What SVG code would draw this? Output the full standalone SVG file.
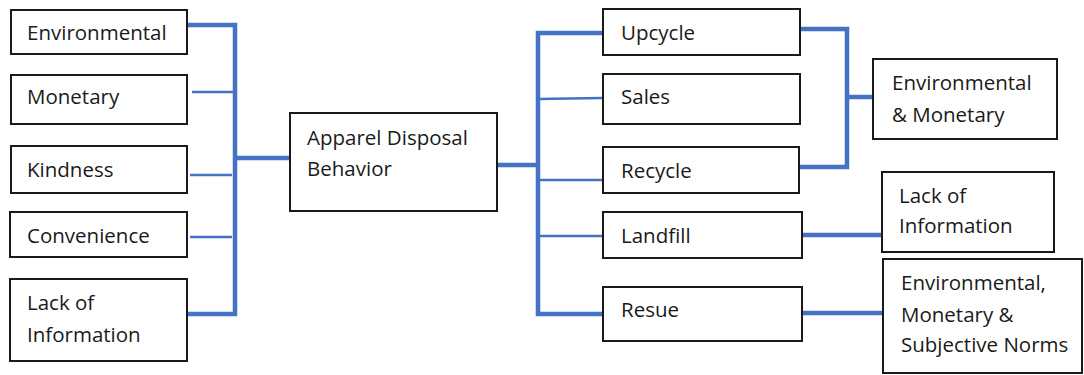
<svg xmlns="http://www.w3.org/2000/svg" width="1084" height="375" viewBox="0 0 1084 375">
  <style>
    .box { fill: #ffffff; stroke: #1a1a1a; stroke-width: 2; }
    .lbl { font-family: "Open Sans", "Noto Sans", sans-serif; font-size: 20.5px; fill: #1a1a1a; }
    .thick { stroke: #4472c4; stroke-width: 4.5; fill: none; }
    .thin { stroke: #4472c4; stroke-width: 2.5; fill: none; }
  </style>
  <rect width="1084" height="375" fill="#ffffff"/>

  <!-- connectors -->
  <g id="connectors">
    <!-- left bus -->
    <polyline class="thick" points="187,25 235,25 235,314 187,314"/>
    <line class="thin" x1="192" y1="92" x2="235" y2="92"/>
    <line class="thin" x1="190" y1="175" x2="232" y2="175"/>
    <line class="thin" x1="190" y1="237" x2="232" y2="237"/>
    <line class="thick" x1="235" y1="158" x2="290" y2="158"/>
    <!-- right bus -->
    <line class="thick" x1="497" y1="165" x2="538" y2="165"/>
    <polyline class="thick" points="603,33 538,33 538,314 603,314"/>
    <line class="thin" x1="538" y1="99" x2="603" y2="98"/>
    <line class="thin" x1="538" y1="180" x2="603" y2="180"/>
    <line class="thin" x1="538" y1="236" x2="603" y2="236"/>
    <!-- outcome links -->
    <polyline class="thick" points="800,29 847,29 847,167 800,167"/>
    <line class="thick" x1="847" y1="97" x2="873" y2="97"/>
    <line class="thick" x1="802" y1="235" x2="882" y2="235"/>
    <line class="thick" x1="802" y1="313" x2="883" y2="313"/>
  </g>

  <!-- motives -->
  <g id="n-environmental">
    <rect class="box" x="11" y="10" width="176" height="44"/>
    <text class="lbl" x="27" y="40">Environmental</text>
  </g>
  <g id="n-monetary">
    <rect class="box" x="11" y="75" width="176" height="49"/>
    <text class="lbl" x="27" y="104">Monetary</text>
  </g>
  <g id="n-kindness">
    <rect class="box" x="11" y="146" width="176" height="47"/>
    <text class="lbl" x="27" y="177">Kindness</text>
  </g>
  <g id="n-convenience">
    <rect class="box" x="10" y="212" width="177" height="45"/>
    <text class="lbl" x="27" y="243">Convenience</text>
  </g>
  <g id="n-lack-left">
    <rect class="box" x="10" y="279" width="177" height="82"/>
    <text class="lbl" x="27" y="310">Lack of</text>
    <text class="lbl" x="27" y="342">Information</text>
  </g>

  <!-- central node -->
  <g id="n-behavior">
    <rect class="box" x="290" y="113" width="207" height="98"/>
    <text class="lbl" x="307" y="145">Apparel Disposal</text>
    <text class="lbl" x="307" y="176">Behavior</text>
  </g>

  <!-- disposal options -->
  <g id="n-upcycle">
    <rect class="box" x="603" y="9" width="197" height="46"/>
    <text class="lbl" x="621" y="40">Upcycle</text>
  </g>
  <g id="n-sales">
    <rect class="box" x="603" y="74" width="197" height="50"/>
    <text class="lbl" x="621" y="104">Sales</text>
  </g>
  <g id="n-recycle">
    <rect class="box" x="603" y="147" width="196" height="46"/>
    <text class="lbl" x="621" y="178">Recycle</text>
  </g>
  <g id="n-landfill">
    <rect class="box" x="603" y="212" width="199" height="46"/>
    <text class="lbl" x="621" y="243">Landfill</text>
  </g>
  <g id="n-resue">
    <rect class="box" x="603" y="287" width="199" height="54"/>
    <text class="lbl" x="621" y="317">Resue</text>
  </g>

  <!-- reasons -->
  <g id="n-env-mon">
    <rect class="box" x="873" y="59" width="184" height="80"/>
    <text class="lbl" x="892" y="90">Environmental</text>
    <text class="lbl" x="892" y="122">&amp; Monetary</text>
  </g>
  <g id="n-lack-right">
    <rect class="box" x="882" y="172" width="172" height="80"/>
    <text class="lbl" x="899" y="203">Lack of</text>
    <text class="lbl" x="899" y="233">Information</text>
  </g>
  <g id="n-env-mon-norms">
    <rect class="box" x="883" y="259" width="199" height="114"/>
    <text class="lbl" x="901" y="290">Environmental,</text>
    <text class="lbl" x="901" y="322">Monetary &amp;</text>
    <text class="lbl" x="901" y="352">Subjective Norms</text>
  </g>
</svg>
